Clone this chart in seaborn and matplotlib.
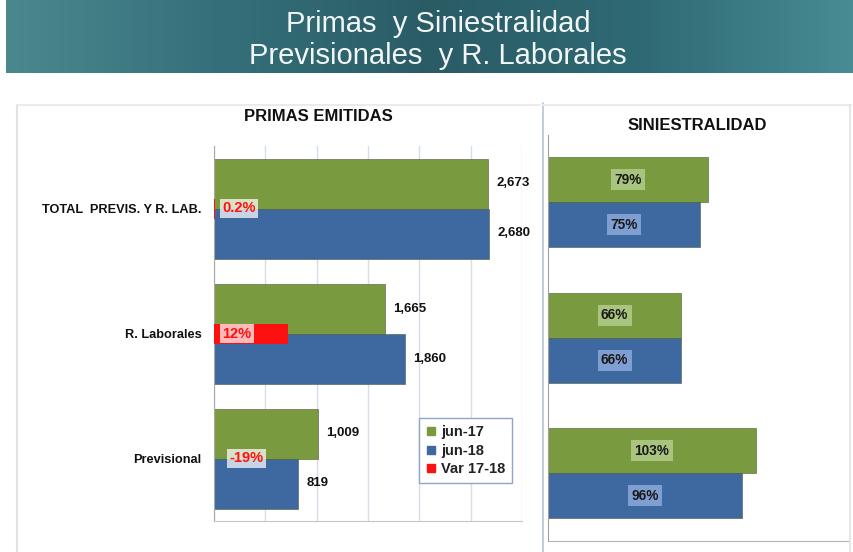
import numpy as np
import pandas as pd
import matplotlib
matplotlib.use("Agg")
import matplotlib.pyplot as plt
from matplotlib.colors import LinearSegmentedColormap
from matplotlib.lines import Line2D
import seaborn as sns

# ---------------- data ----------------
categories = ["TOTAL  PREVIS. Y R. LAB.", "R. Laborales", "Previsional"]
series = ["jun-17", "jun-18"]
primas_jun17 = [2673, 1665, 1009]
primas_jun18 = [2680, 1860, 819]
var_17_18 = [0.2, 12, -19]          # percent
var_labels = ["0.2%", "12%", "-19%"]
sini_jun17 = [79, 66, 103]          # percent
sini_jun18 = [75, 66, 96]
legend_labels = ["jun-17", "jun-18", "Var 17-18"]

# ---------------- style ----------------
sns.set_style("white")
plt.rcParams["font.family"] = ["Liberation Sans", "DejaVu Sans"]

GREEN = "#7a9a3f"
BLUE = "#3d68a0"
RED = "#ff1010"
GREEN_LBL = "#a9c47e"
BLUE_LBL = "#7f9fd2"

W, H = 854, 552
fig = plt.figure(figsize=(W / 100, H / 100), dpi=100)
fig.patch.set_facecolor("white")


def rect(x0, y0, x1, y1):
    """pixel box (top-left origin) -> figure fraction rect"""
    return [x0 / W, 1 - y1 / H, (x1 - x0) / W, (y1 - y0) / H]


def fline(x0, y0, x1, y1, **kw):
    fig.add_artist(Line2D([x0 / W, x1 / W], [1 - y0 / H, 1 - y1 / H],
                          transform=fig.transFigure, **kw))


# ---------------- header banner ----------------
hx = fig.add_axes(rect(6, 0, 854, 73))
cmap = LinearSegmentedColormap.from_list(
    "hdr", [(0, "#4b888e"), (0.25, "#35707a"), (0.5, "#2a5c66"),
            (0.75, "#2f6a74"), (0.9, "#3e7f87"), (1, "#4a8c93")])
grad = np.linspace(0, 1, 256).reshape(1, -1)
hx.imshow(grad, aspect="auto", cmap=cmap, extent=[0, 1, 0, 1])
hx.axis("off")
fig.text(438 / W, 1 - 32 / H, "Primas  y Siniestralidad", ha="center",
         va="baseline", fontsize=21, color="#f2f6f6")
fig.text(438 / W, 1 - 64 / H, "Previsionales  y R. Laborales", ha="center",
         va="baseline", fontsize=21, color="#f2f6f6")

# ---------------- panel frames ----------------
fline(17, 105, 17, 552, color="#e2e2e2", lw=1.5)
fline(17, 105, 540, 105, color="#ebebeb", lw=1.5)
fline(543, 103, 543, 552, color="#b6c3d8", lw=1.2)
fline(543, 105, 851, 105, color="#ebebeb", lw=1.5)
fline(850, 105, 850, 552, color="#e2e2e2", lw=1.2)

fig.text(318 / W, 1 - 117 / H, "PRIMAS EMITIDAS", ha="center", va="center",
         fontsize=12, fontweight="bold", color="#111111")
fig.text(697 / W, 1 - 126 / H, "SINIESTRALIDAD", ha="center", va="center",
         fontsize=12, fontweight="bold", color="#111111")

# ---------------- left chart: primas ----------------
df_p = pd.DataFrame({
    "cat": categories * 2,
    "serie": [series[0]] * 3 + [series[1]] * 3,
    "val": primas_jun17 + primas_jun18,
})
ax = fig.add_axes(rect(214, 146, 522, 521))
sns.barplot(data=df_p, x="val", y="cat", hue="serie", hue_order=series,
            palette=[GREEN, BLUE], saturation=1, width=0.8, ax=ax,
            legend=False, edgecolor="#4a5a40", linewidth=0.4)
ax.set_xlim(0, 3000)
ax.set_xticks(range(0, 3001, 500))
ax.set_xticklabels([])
ax.set_xlabel("")
ax.set_ylabel("")
ax.grid(axis="x", color="#d6dce8", lw=1)
ax.set_axisbelow(True)
ax.tick_params(axis="both", length=0)
ax.tick_params(axis="y", pad=9)
for lbl in ax.get_yticklabels():
    lbl.set_fontweight("bold")
    lbl.set_fontsize(9.2)
    lbl.set_color("#111111")
for s in ["top", "right"]:
    ax.spines[s].set_visible(False)
ax.spines["left"].set_color("#a8a8a8")
ax.spines["bottom"].set_color("#c4c4c4")
for cont, vals in zip(ax.containers, [primas_jun17, primas_jun18]):
    ax.bar_label(cont, labels=[f"{v:,}" for v in vals], padding=6,
                 fontsize=9.5, fontweight="bold", color="#111111")

# variation bars on secondary scale
ax2 = ax.twiny()
sns.barplot(x=var_17_18, y=categories, ax=ax2, color=RED, saturation=1,
            width=0.16, linewidth=0)
ax2.set_xlim(0, 50)
ax2.set_xticks([])
ax2.set_xlabel("")
for s in ax2.spines.values():
    s.set_visible(False)
for i, (v, t) in enumerate(zip(var_17_18, var_labels)):
    ax2.annotate(t, xy=(0, i), xytext=(6 if v >= 0 else 11, 0),
                 textcoords="offset points", ha="left", va="center",
                 color=RED, fontweight="bold", fontsize=10.5, zorder=10,
                 bbox=dict(boxstyle="square,pad=0.15", fc="white",
                           ec="none", alpha=0.72))

# legend
handles = [Line2D([], [], marker="s", ls="", color=c, markersize=6)
           for c in [GREEN, BLUE, RED]]
leg = fig.legend(handles, legend_labels, loc="upper left",
                 bbox_to_anchor=(419 / W, 1 - 418 / H),
                 bbox_transform=fig.transFigure, borderaxespad=0,
                 frameon=True, fancybox=False, edgecolor="#8ea6cc",
                 framealpha=1, handlelength=0.7, handletextpad=0.3,
                 borderpad=0.5, labelspacing=0.3,
                 prop=dict(weight="bold", size=10.5))
leg.get_frame().set_linewidth(1)
for t in leg.get_texts():
    t.set_color("#222222")
leg.set_zorder(20)

# ---------------- right chart: siniestralidad ----------------
df_s = pd.DataFrame({
    "cat": categories * 2,
    "serie": [series[0]] * 3 + [series[1]] * 3,
    "val": sini_jun17 + sini_jun18,
})
axr = fig.add_axes(rect(548, 134.5, 849, 541))
sns.barplot(data=df_s, x="val", y="cat", hue="serie", hue_order=series,
            palette=[GREEN, BLUE], saturation=1, width=0.665, ax=axr,
            legend=False, edgecolor="#4a5a40", linewidth=0.4)
axr.set_xlim(0, 149)
axr.set_xticks([])
axr.set_xlabel("")
axr.set_ylabel("")
axr.tick_params(axis="y", length=0, labelleft=False)
for s in ["top", "right"]:
    axr.spines[s].set_visible(False)
axr.spines["left"].set_color("#a0a0a0")
axr.spines["bottom"].set_color("#b4b4b4")
for cont, vals, bc in zip(axr.containers, [sini_jun17, sini_jun18],
                          [GREEN_LBL, BLUE_LBL]):
    axr.bar_label(cont, labels=[f"{v}%" for v in vals], label_type="center",
                  fontsize=9.8, fontweight="bold", color="#1a1a1a",
                  bbox=dict(boxstyle="square,pad=0.25", fc=bc, ec="none"))

fig.savefig("out.png", dpi=100)
